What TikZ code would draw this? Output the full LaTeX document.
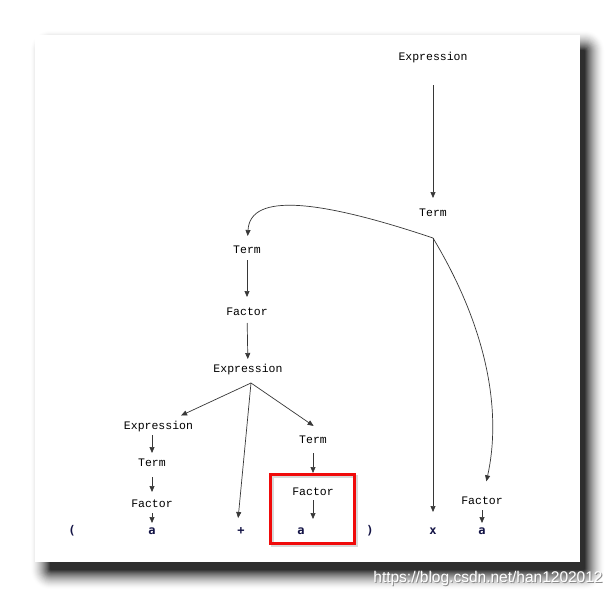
\documentclass[tikz,border=0pt]{standalone}
\usepackage{fontspec}
\usetikzlibrary{arrows.meta}
\newfontfamily\lblfont{Liberation Mono}
\newfontfamily\tokfont{DejaVu Sans Mono}
\newfontfamily\wmfont{Liberation Sans}
\definecolor{linec}{RGB}{55,55,55}
\definecolor{tokc}{RGB}{20,20,70}
\definecolor{boxred}{RGB}{240,10,10}
\tikzset{
  lbl/.style={inner sep=0pt, outer sep=0pt, text height=8pt, text depth=2pt, font=\lblfont\fontsize{11.5}{12}\selectfont, text=black},
  tok/.style={inner sep=0pt, outer sep=0pt, text height=8pt, text depth=2pt, font=\tokfont\bfseries\fontsize{12}{13}\selectfont, text=tokc},
  arr/.style={draw=linec, line width=0.7pt, -{Triangle[length=6pt,width=5pt]}, fill=none},
  redbox/.style={draw=boxred, line width=3pt},
}
\begin{document}
\begin{tikzpicture}[x=1pt,y=-1pt]
\useasboundingbox (0,0) rectangle (615,597);
\fill[white] (0,0) rectangle (615,597);
% card shadow: nested opaque rectangles, light outside to dark inside
\foreach \k in {20,19,...,0}{
  \pgfmathsetmacro{\pc}{82*(1-\k/20)^1.6}
  \fill[black!\pc!white,rounded corners=\k pt+1pt] (50-\k,50-\k) rectangle (585+\k,570+\k);
}
% card
\fill[white] (35,35) rectangle (580,562);

% labels
\node[lbl] (E0) at (433,57) {Expression};
\node[lbl] (T0) at (433,213) {Term};
\coordinate (B0) at (433,238);
\node[lbl] (T1) at (247,250) {Term};
\node[lbl] (F1) at (247,312) {Factor};
\node[lbl] (E1) at (248,369) {Expression};
\coordinate (B1) at (251,383);
\node[lbl] (E2) at (158.5,426) {Expression};
\node[lbl] (T4) at (152,463) {Term};
\node[lbl] (F4) at (152,504) {Factor};
\node[lbl] (T2) at (313,440) {Term};
\node[lbl] (F3) at (313,492) {Factor};
\node[lbl] (F5) at (482,501) {Factor};

% tokens
\node[tok] (LP) at (72,531) {(};
\node[tok] (A4) at (152,531) {a};
\node[tok] (PL) at (241,531) {+};
\node[tok] (A3) at (301,531) {a};
\node[tok] (RP) at (370,531) {)};
\node[tok] (X)  at (433,531) {x};
\node[tok] (A5) at (482,531) {a};

% connectors
\draw[arr, shorten <=23pt, shorten >=10pt] (E0) -- (T0);
\draw[arr, shorten >=9pt] (B0) .. controls (320,200) and (250,192) .. (T1);
\draw[arr, shorten >=14pt] (B0) -- (X);
\draw[arr, shorten >=15pt] (B0) .. controls (493,338) and (500,420) .. (F5);
\draw[arr, shorten <=5pt, shorten >=10pt] (T1) -- (F1);
\draw[arr, shorten <=6pt, shorten >=5pt] (F1) -- (E1);
\draw[arr, shorten >=13pt] (B1) -- (E2);
\draw[arr, shorten >=8pt] (B1) -- (PL.north west);
\draw[arr, shorten >=16pt] (B1) -- (T2.north east);
\draw[arr, shorten <=4pt, shorten >=5pt] (E2.south -| T4.north) -- (T4.north);
\draw[arr, shorten <=9pt, shorten >=7pt] (T4) -- (F4);
\draw[arr, shorten <=4pt, shorten >=3pt] (F4) -- (A4);
\draw[arr, shorten <=8pt, shorten >=14pt] (T2) -- (F3);
\draw[arr, shorten <=3pt, shorten >=7pt] (F3.south) -- (F3.south |- A3.north);
\draw[arr, shorten <=4pt, shorten >=3pt] (F5) -- (A5);

% highlight box
\draw[black,opacity=0.15,line width=3pt] (272,476) rectangle (356,545);
\draw[redbox] (270,474) rectangle (354,543);

% watermark
\node[font=\wmfont\fontsize{15.5}{16}\selectfont, text=black!45, inner sep=0pt] (WMs) at (489,579) {https://blog.csdn.net/han1202012};
\node[font=\wmfont\fontsize{15.5}{16}\selectfont, text=white, inner sep=0pt] (WM) at (488,578) {https://blog.csdn.net/han1202012};
\end{tikzpicture}
\end{document}
